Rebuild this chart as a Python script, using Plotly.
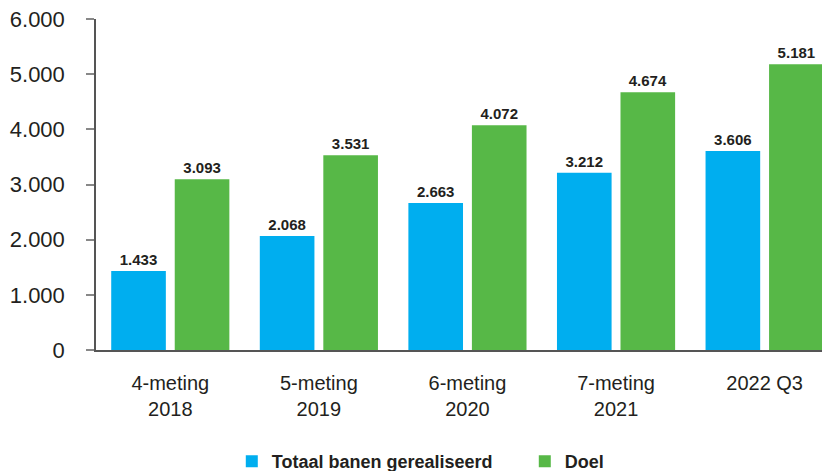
import plotly.graph_objects as go

categories = ["4-meting<br>2018", "5-meting<br>2019", "6-meting<br>2020", "7-meting<br>2021", "2022 Q3"]
realised = [1433, 2068, 2663, 3212, 3606]
target = [3093, 3531, 4072, 4674, 5181]
y_ticks = [0, 1000, 2000, 3000, 4000, 5000, 6000]

BLUE = "#00AEEF"
GREEN = "#57B847"
FONT = "Liberation Sans, Arial, sans-serif"

fig = go.Figure()
fig.add_trace(go.Bar(
    x=categories, y=realised, name="Totaal banen gerealiseerd",
    marker=dict(color=BLUE, line=dict(width=0)),
    texttemplate="%{y:,d}", textposition="outside", cliponaxis=False,
    textfont=dict(family=FONT, size=15, color="#231f20", weight="bold"),
))
fig.add_trace(go.Bar(
    x=categories, y=target, name="Doel",
    marker=dict(color=GREEN, line=dict(width=0)),
    texttemplate="%{y:,d}", textposition="outside", cliponaxis=False,
    textfont=dict(family=FONT, size=15, color="#231f20", weight="bold"),
))

fig.update_layout(
    width=830, height=471,
    margin=dict(l=88, r=8, t=11, b=129, autoexpand=False),
    paper_bgcolor="white", plot_bgcolor="white",
    separators=",.",
    barmode="group", bargap=0.145, bargroupgap=0.14,
    font=dict(family=FONT, color="#231f20"),
    showlegend=True,
    legend=dict(
        orientation="h", x=0.185, xanchor="left", y=-0.281, yanchor="top",
        font=dict(family=FONT, size=18, color="#231f20", weight="bold"),
        itemwidth=30, traceorder="normal", entrywidthmode="pixels", entrywidth=248,
    ),
    xaxis=dict(
        type="category", range=[-0.5, 4.44], automargin=False,
        showline=True, linecolor="#555555", linewidth=2,
        ticks="", showgrid=False, zeroline=False,
        tickfont=dict(family=FONT, size=20, color="#231f20"),
        ticklabelstandoff=14, ticklabeloverflow="allow",
    ),
    yaxis=dict(
        range=[0, 6000], tickvals=y_ticks, tickformat=",d", automargin=False,
        showline=True, linecolor="#555555", linewidth=1.5,
        ticks="outside", ticklen=8, tickcolor="#888888", tickwidth=1.5,
        showgrid=False, zeroline=False,
        tickfont=dict(family=FONT, size=22, color="#231f20"),
        ticklabelstandoff=17, ticklabeloverflow="allow",
    ),
)

fig.write_html("out.html")
